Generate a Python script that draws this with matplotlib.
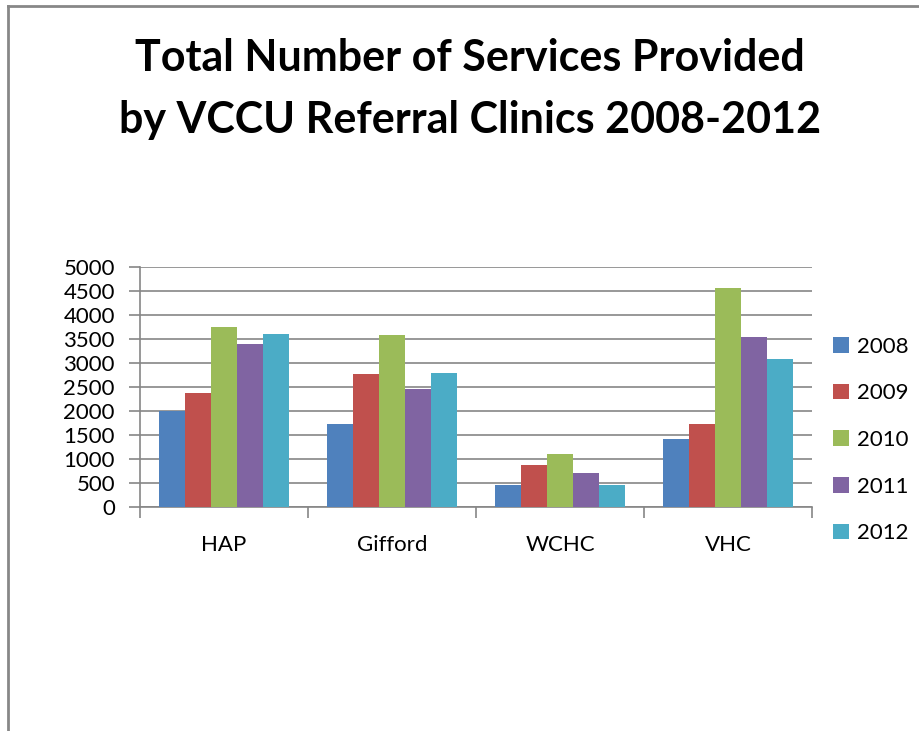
# Total services provided by VCCU referral clinics, 2008-2012
import matplotlib
matplotlib.use('Agg')
import matplotlib.pyplot as plt
from matplotlib.lines import Line2D
from matplotlib.patches import Patch
import numpy as np

clinics = ['HAP', 'Gifford', 'WCHC', 'VHC']
years = ['2008', '2009', '2010', '2011', '2012']
y2008 = [1990, 1730, 460, 1420]
y2009 = [2370, 2770, 880, 1730]
y2010 = [3740, 3580, 1100, 4560]
y2011 = [3390, 2450, 700, 3550]
y2012 = [3600, 2800, 460, 3090]
colors = ['#4F81BD', '#C0504D', '#9BBB59', '#8064A2', '#4BACC6']

plt.rcParams['font.family'] = ['Lato', 'DejaVu Sans']

fig = plt.figure(figsize=(9.2, 7.31), dpi=100)
ax = fig.add_axes([140/920, 1-507/731, 672/920, 240/731])

x = np.arange(len(clinics))
w = 1/6.5
series = [y2008, y2009, y2010, y2011, y2012]
for i, vals in enumerate(series):
    ax.bar(x + (i-2)*w, vals, width=w, color=colors[i], zorder=3, linewidth=0)

ax.set_xlim(-0.5, 3.5)
ax.set_ylim(0, 5000)
ax.set_yticks(range(0, 5001, 500))
ax.yaxis.grid(True, color='#868686', linewidth=1.2, zorder=0)
ax.set_xticks(np.arange(-0.5, 3.6, 1))
ax.set_xticklabels([])
ax.set_xticks(x, minor=True)
ax.set_xticklabels(clinics, minor=True)
ax.tick_params(axis='x', which='minor', length=0, labelsize=16, pad=20)
ax.tick_params(axis='x', which='major', length=8, color='#868686', width=1.2)
ax.tick_params(axis='y', length=8, color='#868686', width=1.2, labelsize=16, pad=10)
for s in ['top', 'right']:
    ax.spines[s].set_visible(False)
for s in ['left', 'bottom']:
    ax.spines[s].set_color('#868686')
    ax.spines[s].set_linewidth(1.2)

handles = [Patch(facecolor=c, label=y) for c, y in zip(colors, years)]
fig.legend(handles=handles, loc='center left', bbox_to_anchor=(813/920, 1-440/731),
           frameon=False, fontsize=16, handlelength=0.7, handleheight=0.7,
           handletextpad=0.4, labelspacing=1.2)

fig.text(470/920, 1-89/731, 'Total Number of Services Provided\nby VCCU Referral Clinics 2008-2012',
         ha='center', va='center', fontsize=31, fontweight='bold', linespacing=1.66)

# chart frame
fig.add_artist(Line2D([8/920, 8/920], [0, 1-6/731], color='#878787', linewidth=2))
fig.add_artist(Line2D([8/920, 1], [1-6/731, 1-6/731], color='#878787', linewidth=2))

plt.savefig('out.png', dpi=100)
plt.close()
